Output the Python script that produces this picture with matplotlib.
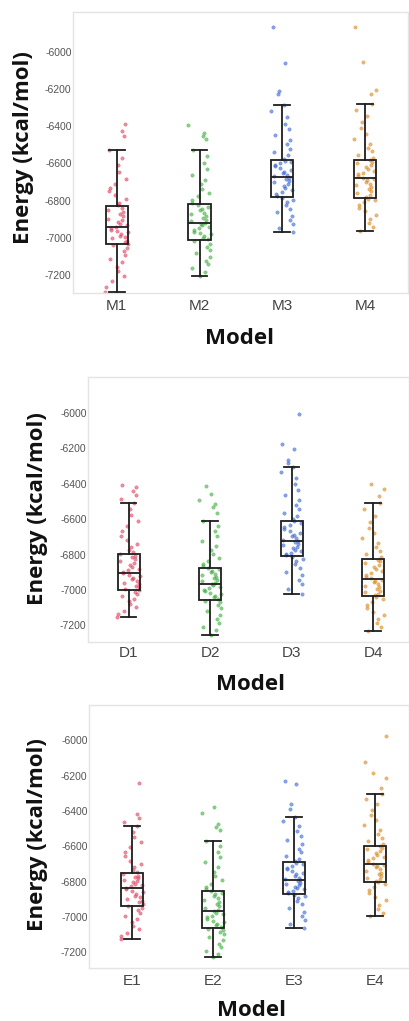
import numpy as np
import matplotlib
matplotlib.use("Agg")
import matplotlib.pyplot as plt

# ---- data ----
m_names = ["M1", "M2", "M3", "M4"]
d_names = ["D1", "D2", "D3", "D4"]
e_names = ["E1", "E2", "E3", "E4"]

# box stats: lower whisker, q1, median, q3, upper whisker
m_whislo = [-7289, -7205, -6966, -6963]
m_q1 = [-7034, -7011, -6779, -6784]
m_med = [-6943, -6922, -6674, -6681]
m_q3 = [-6829, -6820, -6583, -6581]
m_whishi = [-6531, -6531, -6287, -6283]

d_whislo = [-7153, -7252, -7021, -7234]
d_q1 = [-6998, -7055, -6810, -7036]
d_med = [-6902, -6964, -6723, -6940]
d_q3 = [-6795, -6874, -6608, -6823]
d_whishi = [-6508, -6612, -6305, -6508]

e_whislo = [-7126, -7228, -7062, -6996]
e_q1 = [-6940, -7062, -6870, -6800]
e_med = [-6838, -6964, -6789, -6701]
e_q3 = [-6753, -6851, -6691, -6597]
e_whishi = [-6486, -6569, -6431, -6301]

# individual energies (approximate, read from the strip points)
m1_pts = [-7289, -7262, -7231, -7204, -7177, -7158, -7131, -7112, -7093, -7071, -7052, -7041,
          -7031, -7024, -7016, -7003, -6996, -6988, -6979, -6971, -6962, -6957, -6949,
          -6941, -6933, -6926, -6914, -6903, -6897, -6885, -6872, -6861, -6849, -6838,
          -6826, -6811, -6794, -6772, -6751, -6733, -6709, -6682, -6648, -6611, -6574, -6531,
          -6455, -6428, -6389]
m2_pts = [-7205, -7181, -7160, -7139, -7122, -7101, -7083, -7064, -7047, -7031, -7018,
          -7008, -6999, -6991, -6982, -6974, -6966, -6958, -6949, -6940, -6933, -6926,
          -6919, -6911, -6902, -6893, -6881, -6872, -6864, -6851, -6843, -6834, -6824,
          -6812, -6796, -6778, -6757, -6736, -6712, -6690, -6664, -6631, -6598, -6562, -6531,
          -6472, -6455, -6437, -6392]
m3_pts = [-6966, -6948, -6925, -6902, -6881, -6862, -6843, -6826, -6810, -6796, -6785,
          -6775, -6766, -6752, -6744, -6733, -6722, -6713, -6702, -6694, -6685, -6678,
          -6670, -6662, -6653, -6644, -6636, -6626, -6617, -6608, -6599, -6592, -6586,
          -6575, -6558, -6541, -6522, -6498, -6473, -6446, -6418, -6389, -6352, -6318, -6287,
          -6226, -6214, -6062, -5870]
m4_pts = [-6963, -6941, -6919, -6897, -6878, -6858, -6840, -6822, -6808, -6796, -6789,
          -6779, -6770, -6760, -6749, -6739, -6728, -6719, -6709, -6699, -6690, -6684,
          -6677, -6668, -6660, -6650, -6641, -6630, -6621, -6611, -6600, -6592, -6584,
          -6572, -6555, -6536, -6517, -6495, -6470, -6442, -6413, -6381, -6347, -6314, -6283,
          -6230, -6208, -6059, -5870]

d1_pts = [-7153, -7136, -7118, -7097, -7081, -7063, -7049, -7033, -7021, -7010, -7003,
          -6994, -6985, -6976, -6967, -6958, -6949, -6940, -6931, -6922, -6914, -6906,
          -6898, -6889, -6879, -6870, -6859, -6850, -6839, -6827, -6816, -6806, -6799,
          -6788, -6773, -6757, -6739, -6718, -6694, -6668, -6641, -6612, -6578, -6544, -6508,
          -6487, -6462, -6443, -6421, -6409]
d2_pts = [-7252, -7229, -7208, -7186, -7163, -7142, -7121, -7101, -7085, -7070, -7060,
          -7050, -7042, -7033, -7024, -7015, -7006, -6998, -6989, -6981, -6973, -6967,
          -6960, -6952, -6944, -6935, -6926, -6917, -6908, -6899, -6891, -6883, -6877,
          -6866, -6852, -6836, -6818, -6798, -6776, -6751, -6724, -6697, -6668, -6640, -6612,
          -6568, -6532, -6512, -6490, -6456, -6414]
d3_pts = [-7021, -6995, -6968, -6943, -6918, -6896, -6874, -6855, -6838, -6824, -6815,
          -6805, -6797, -6789, -6780, -6772, -6763, -6755, -6747, -6739, -6731, -6726,
          -6718, -6708, -6697, -6687, -6676, -6665, -6654, -6643, -6632, -6621, -6612,
          -6600, -6583, -6564, -6542, -6518, -6492, -6463, -6433, -6400, -6368, -6336, -6305,
          -6285, -6268, -6202, -6173, -6004]
d4_pts = [-7234, -7211, -7189, -7166, -7144, -7122, -7102, -7083, -7066, -7051, -7042,
          -7031, -7022, -7013, -7004, -6994, -6985, -6975, -6966, -6957, -6949, -6943,
          -6935, -6925, -6914, -6903, -6892, -6880, -6869, -6857, -6846, -6836, -6828,
          -6814, -6797, -6778, -6757, -6733, -6707, -6678, -6648, -6614, -6580, -6544, -6508,
          -6470, -6431, -6403]

e1_pts = [-7126, -7108, -7089, -7069, -7049, -7030, -7012, -6994, -6978, -6961, -6947,
          -6936, -6927, -6917, -6908, -6898, -6888, -6878, -6868, -6858, -6850, -6843,
          -6834, -6826, -6819, -6811, -6803, -6796, -6788, -6780, -6772, -6765, -6757,
          -6746, -6733, -6718, -6700, -6680, -6657, -6632, -6605, -6577, -6547, -6516, -6486,
          -6463, -6441, -6418, -6239]
e2_pts = [-7228, -7211, -7192, -7172, -7152, -7132, -7114, -7096, -7082, -7072, -7066,
          -7056, -7047, -7038, -7029, -7020, -7010, -7001, -6991, -6982, -6975, -6968,
          -6959, -6949, -6938, -6927, -6916, -6905, -6894, -6882, -6871, -6862, -6855,
          -6842, -6827, -6810, -6790, -6768, -6744, -6718, -6690, -6661, -6630, -6600, -6569,
          -6510, -6493, -6475, -6409, -6377]
e3_pts = [-7062, -7040, -7016, -6993, -6970, -6948, -6927, -6908, -6892, -6880, -6874,
          -6866, -6858, -6851, -6843, -6835, -6828, -6820, -6812, -6805, -6798, -6792,
          -6785, -6776, -6767, -6758, -6749, -6740, -6730, -6720, -6710, -6701, -6694,
          -6684, -6669, -6652, -6633, -6612, -6589, -6565, -6540, -6514, -6487, -6459, -6431,
          -6390, -6362, -6249, -6230]
e4_pts = [-6996, -6975, -6952, -6929, -6906, -6884, -6863, -6845, -6828, -6813, -6804,
          -6795, -6786, -6777, -6767, -6757, -6748, -6738, -6729, -6719, -6711, -6705,
          -6697, -6688, -6678, -6668, -6658, -6647, -6637, -6627, -6616, -6607, -6600,
          -6588, -6571, -6552, -6530, -6506, -6480, -6452, -6423, -6393, -6362, -6331, -6301,
          -6267, -6211, -6183, -6122, -5976]

y_ticks = [-7200, -7000, -6800, -6600, -6400, -6200, -6000]
colors = ["#e0405e", "#3cae3c", "#3a66d0", "#d88a22"]

W, H = 410, 1021
fig = plt.figure(figsize=(W / 100, H / 100), dpi=100)


def px_axes(left, top, right, bottom):
    return fig.add_axes([left / W, 1 - bottom / H, (right - left) / W, (bottom - top) / H])


def panel(ax, names, pts, whislo, q1, med, q3, whishi, xlim, ylim, xpad):
    for i, vals in enumerate(pts):
        n = len(vals)
        # sideways spread of the strip (quadratic Weyl sequence of the index)
        k = np.arange(n) + 5 * i
        frac = (k * k * 0.618034 + k * 0.414214) % 1.0
        off = (frac - 0.5) * 0.28
        ax.scatter(i + off, vals, s=6, color=colors[i], alpha=0.6,
                   linewidths=0.35, edgecolors=colors[i], zorder=2)
    stats = []
    for i in range(len(names)):
        stats.append(dict(whislo=whislo[i], q1=q1[i], med=med[i], q3=q3[i],
                          whishi=whishi[i], fliers=[]))
    line = dict(color="#1e1e1e", linewidth=1.3)
    ax.bxp(stats, positions=range(len(names)), widths=0.27, showfliers=False,
           patch_artist=True,
           boxprops=dict(facecolor="none", edgecolor="#1e1e1e", linewidth=1.3),
           medianprops=line, whiskerprops=line, capprops=line, capwidths=0.19,
           zorder=3)
    ax.set_xlim(*xlim)
    ax.set_ylim(*ylim)
    ax.set_xticks(range(len(names)))
    ax.set_xticklabels(names, fontsize=11, color="#444444", family="Liberation Sans")
    ax.set_yticks(y_ticks)
    ax.set_yticklabels([str(t) for t in y_ticks], fontsize=7.5, color="#555555",
                       family="Liberation Sans")
    ax.tick_params(axis="both", length=0)
    ax.tick_params(axis="y", pad=1)
    ax.tick_params(axis="x", pad=xpad)
    for s in ax.spines.values():
        s.set_color("#e4e4e4")
        s.set_linewidth(1.0)


ax1 = px_axes(73, 12, 408, 293)
panel(ax1, m_names, [m1_pts, m2_pts, m3_pts, m4_pts],
      m_whislo, m_q1, m_med, m_q3, m_whishi, (-0.53, 3.52), (-7296, -5788), 4.5)

ax2 = px_axes(88, 377, 409, 642)
panel(ax2, d_names, [d1_pts, d2_pts, d3_pts, d4_pts],
      d_whislo, d_q1, d_med, d_q3, d_whishi, (-0.50, 3.44), (-7294, -5797), 3.2)

ax3 = px_axes(89, 705, 409, 968)
panel(ax3, e_names, [e1_pts, e2_pts, e3_pts, e4_pts],
      e_whislo, e_q1, e_med, e_q3, e_whishi, (-0.53, 3.42), (-7288, -5800), 4.0)

lab = dict(fontsize=16, fontweight="bold", family="Open Sans", color="#111111",
           ha="center", va="center")
for x, y in [(24, 148), (38, 509), (38, 835)]:
    fig.text(x / W, 1 - y / H, "Energy (kcal/mol)", rotation=90, **lab)
for x, y in [(240, 338), (251, 685), (252, 1010)]:
    fig.text(x / W, 1 - y / H, "Model", **lab)

fig.savefig("out.png", dpi=100)
